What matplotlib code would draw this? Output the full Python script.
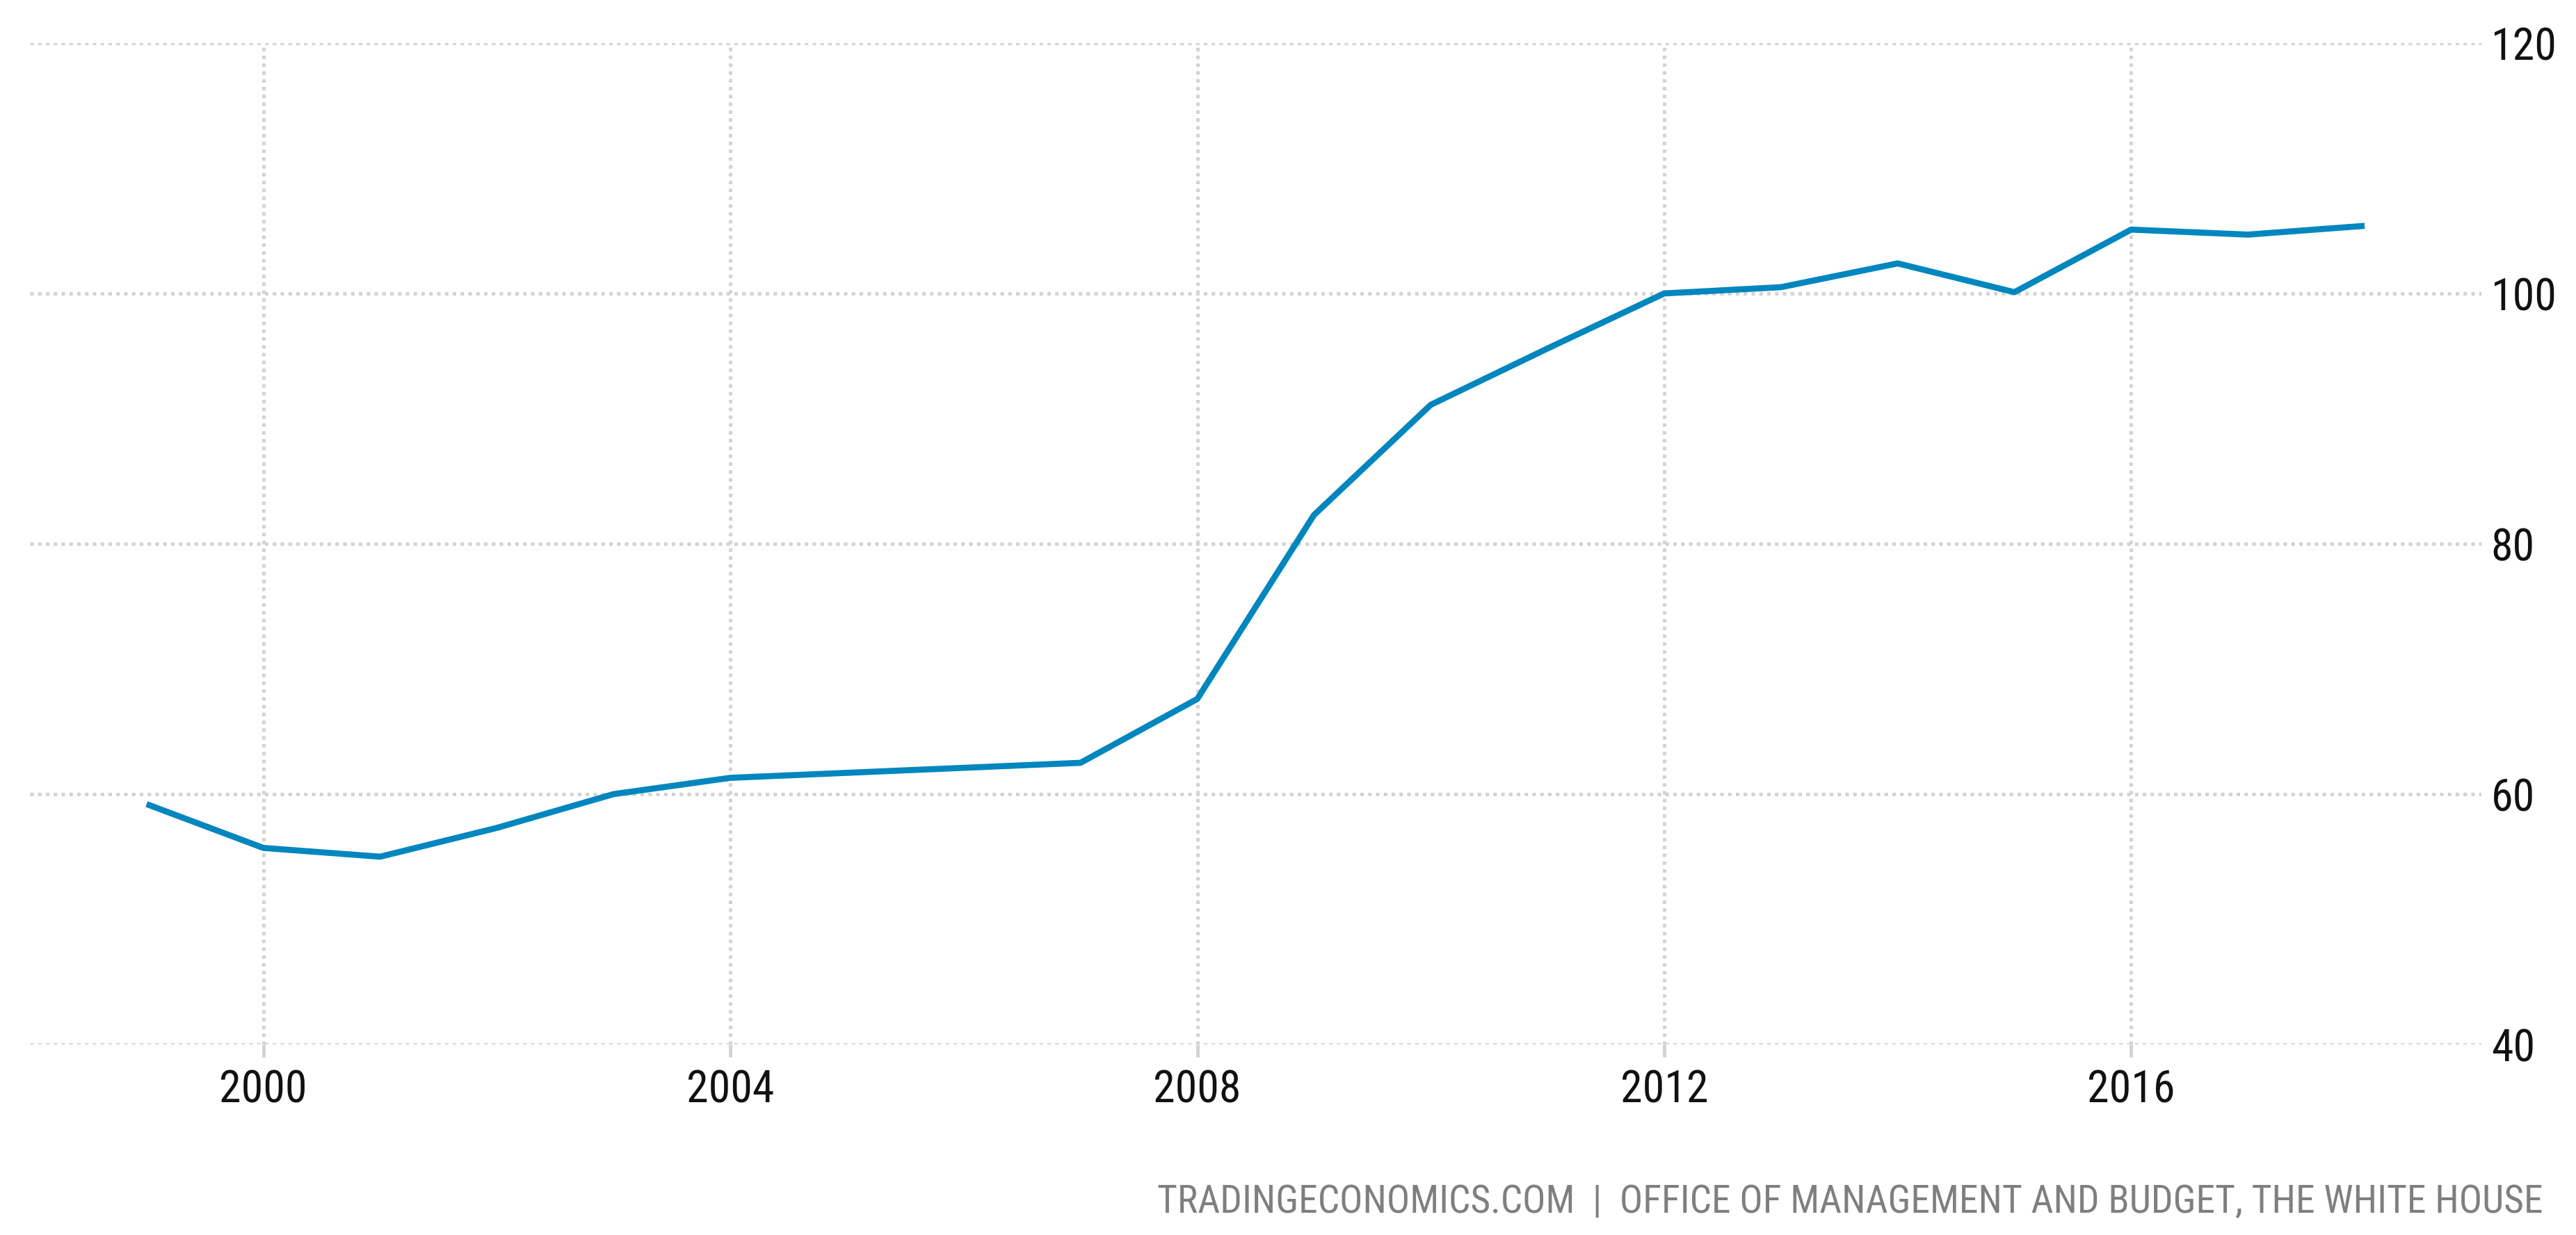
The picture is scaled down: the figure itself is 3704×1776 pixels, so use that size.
import matplotlib
matplotlib.use("Agg")
import matplotlib.pyplot as plt
from matplotlib import font_manager

# Valores (divida / PIB, %)
anos = [1999, 2000, 2001, 2002, 2003, 2004, 2005, 2006, 2007, 2008,
        2009, 2010, 2011, 2012, 2013, 2014, 2015, 2016, 2017, 2018]
valores = [59.2, 55.7, 55.0, 57.3, 60.0, 61.3, 61.7, 62.1, 62.5, 67.6,
           82.3, 91.1, 95.6, 100.0, 100.5, 102.4, 100.1, 105.1, 104.7, 105.4]

xticks = [2000, 2004, 2008, 2012, 2016]
yticks = [40, 60, 80, 100, 120]
fonte = "TRADINGECONOMICS.COM  |  OFFICE OF MANAGEMENT AND BUDGET, THE WHITE HOUSE"

# Procurar uma fonte estreita instalada
familia, largura = "DejaVu Sans", "normal"
nomes = {(f.name, f.stretch) for f in font_manager.fontManager.ttflist}
for nome in ["Liberation Sans Narrow", "Roboto Condensed", "Open Sans Condensed"]:
    if any(n == nome for n, _ in nomes):
        familia = nome
        break
else:
    for nome in ["DejaVu Sans", "Noto Sans", "Open Sans", "Roboto"]:
        if (nome, "condensed") in nomes:
            familia, largura = nome, "condensed"
            break

plt.rcParams['font.family'] = [familia, "DejaVu Sans"]
plt.rcParams['font.stretch'] = largura

fig = plt.figure(figsize=(37.05, 17.76), dpi=100)
ax = fig.add_axes([0.0116, 0.1543, 0.9514, 0.8108])

ax.plot(anos, valores, color="#0086be", linewidth=6.3, solid_joinstyle='round',
        solid_capstyle='butt')

ax.set_xlim(1998, 2019)
ax.set_ylim(40, 120)
ax.set_xticks(xticks)
ax.set_yticks(yticks)

ax.yaxis.tick_right()
for s in ax.spines.values():
    s.set_visible(False)

ax.grid(True, color="#d3d3d3", linewidth=3.6, linestyle=(0, (1, 1.25)))
ax.tick_params(axis='x', length=13, width=3.6, color="#d3d3d3", pad=12,
               labelsize=46, labelcolor="#111111")
ax.tick_params(axis='y', length=0, pad=10, labelsize=46, labelcolor="#111111")
for lab in ax.get_yticklabels():
    lab.set_horizontalalignment('left')

fig.text(0.987, 0.018, fonte, ha='right', va='baseline', fontsize=40,
         color="#7f7f7f")

fig.savefig("out.png", dpi=100, facecolor="white")
